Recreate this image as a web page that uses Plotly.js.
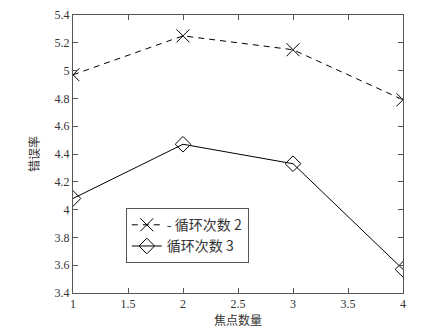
<!DOCTYPE html>
<html><head><meta charset="utf-8">
<script src="https://cdn.plot.ly/plotly-3.0.1.min.js"></script>
<style>body{margin:0;background:#fff}#c{width:427px;height:329px}</style>
</head><body><div id="c"></div>
<script>
const focusCounts = [1, 2, 3, 4];
const errLoop2 = [4.97, 5.25, 5.15, 4.79];
const errLoop3 = [4.08, 4.47, 4.33, 3.57];
const seriesNames = ['- 循环次数 2', '循环次数 3'];
const xTitle = '焦点数量';
const yTitle = '错误率';

const serif = 'Liberation Serif, Times New Roman, serif';
const cjk = 'Noto Sans CJK SC, sans-serif';

const data = [
  {x: focusCounts, y: errLoop2, name: seriesNames[0], type: 'scatter', mode: 'lines+markers',
   line: {color: '#000', width: 1, dash: '6px,5px'},
   marker: {symbol: 'x-thin-open', size: 13, color: '#000', line: {color: '#000', width: 1}}},
  {x: focusCounts, y: errLoop3, name: seriesNames[1], type: 'scatter', mode: 'lines+markers',
   line: {color: '#000', width: 1},
   marker: {symbol: 'diamond-open', size: 12, color: '#000', line: {color: '#000', width: 1}}}
];

const axisCommon = {
  showgrid: false, zeroline: false, showline: true, linecolor: '#555', linewidth: 1,
  mirror: 'ticks', ticks: 'inside', ticklen: 5, tickcolor: '#555',
  tickfont: {family: serif, size: 12, color: '#333'}
};

const layout = {
  width: 427, height: 329,
  margin: {l: 73, r: 24, t: 15, b: 36},
  paper_bgcolor: '#fff', plot_bgcolor: '#fff',
  showlegend: true,
  legend: {x: 0.16, y: 0.305, xanchor: 'left', yanchor: 'top',
    bordercolor: '#555', borderwidth: 1, bgcolor: '#fff',
    font: {family: cjk + ', ' + serif, size: 14, color: '#333'}},
  xaxis: Object.assign({}, axisCommon, {range: [1, 4], dtick: 0.5, tick0: 1,
    title: {text: xTitle, font: {family: cjk, size: 12, color: '#333'}, standoff: 5}}),
  yaxis: Object.assign({}, axisCommon, {range: [3.4, 5.4], dtick: 0.2, tick0: 3.4,
    title: {text: yTitle, font: {family: cjk, size: 12, color: '#333'}, standoff: 12}})
};

Plotly.newPlot('c', data, layout, {displayModeBar: false, staticPlot: true});
</script></body></html>
